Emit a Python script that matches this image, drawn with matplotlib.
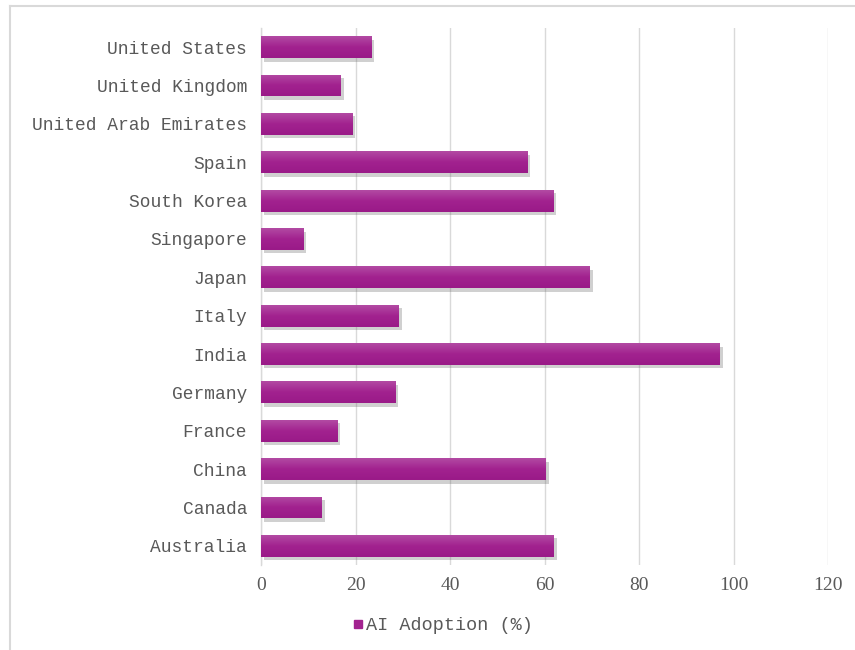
import matplotlib
matplotlib.use("Agg")
import matplotlib.pyplot as plt
import matplotlib.patheffects as pe
from matplotlib.lines import Line2D
from matplotlib.colors import LinearSegmentedColormap
import numpy as np

countries = ["Australia", "Canada", "China", "France", "Germany", "India", "Italy",
             "Japan", "Singapore", "South Korea", "Spain", "United Arab Emirates",
             "United Kingdom", "United States"]
adoption = [62.0, 12.9, 60.3, 16.1, 28.4, 97.1, 29.2, 69.6, 8.9, 61.8, 56.3, 19.3, 16.9, 23.3]
xticks = [0, 20, 40, 60, 80, 100, 120]
series_name = "AI Adoption (%)"

W, H = 855, 650
fig = plt.figure(figsize=(W / 100, H / 100), dpi=100)
ax = fig.add_axes([261 / W, 1 - 565 / H, (828 - 261) / W, (565 - 28) / H])

y = np.arange(len(countries))
bars = ax.barh(y, adoption, height=0.57, color="#A2228F", zorder=3,
               path_effects=[pe.SimplePatchShadow(offset=(2, -2.5), shadow_rgbFace="#666666", alpha=0.3),
                             pe.Normal()])

# subtle vertical gradient (lighter top) clipped to each bar
grad = np.linspace(0, 1, 64).reshape(-1, 1)
cmap = LinearSegmentedColormap.from_list("g", ["#B24AA3", "#A2228F", "#9A1A88"])
for b in bars:
    x0, y0 = b.get_x(), b.get_y()
    w, h = b.get_width(), b.get_height()
    im = ax.imshow(grad, extent=[x0, x0 + w, y0, y0 + h], aspect="auto", cmap=cmap,
                   origin="upper", zorder=4)
    im.set_clip_path(b)

ax.set_xlim(0, 120)
ax.set_ylim(-0.5, len(countries) - 0.5)
ax.set_xticks(xticks)
ax.set_xticklabels([str(t) for t in xticks], fontfamily="Liberation Serif", fontsize=14, color="#595959")
ax.set_yticks(y)
ax.set_yticklabels(countries, fontfamily="Liberation Mono", fontsize=12.9, color="#595959")
ax.tick_params(axis="y", length=0, pad=10)
ax.tick_params(axis="x", length=0, pad=9)
ax.grid(axis="x", color="#D9D9D9", linewidth=1, zorder=0)
for s in ["top", "right", "bottom"]:
    ax.spines[s].set_visible(False)
ax.spines["left"].set_color("#D9D9D9")
ax.spines["left"].set_linewidth(1)

handle = Line2D([], [], marker="s", linestyle="none", color="#A2228F", markersize=6)
leg = fig.legend([handle], [series_name], loc="center", bbox_to_anchor=(440 / W, 1 - 626 / H),
                 frameon=False, handletextpad=-0.2, handlelength=1.2,
                 prop={"family": "Liberation Mono", "size": 13.3})
for t in leg.get_texts():
    t.set_color("#595959")

# chart border (left and top visible)
fig.add_artist(Line2D([10 / W, 10 / W], [0, 1 - 6 / H], color="#D9D9D9", linewidth=1.5))
fig.add_artist(Line2D([10 / W, 1], [1 - 6 / H, 1 - 6 / H], color="#D9D9D9", linewidth=1.5))

fig.savefig("out.png", dpi=100)
